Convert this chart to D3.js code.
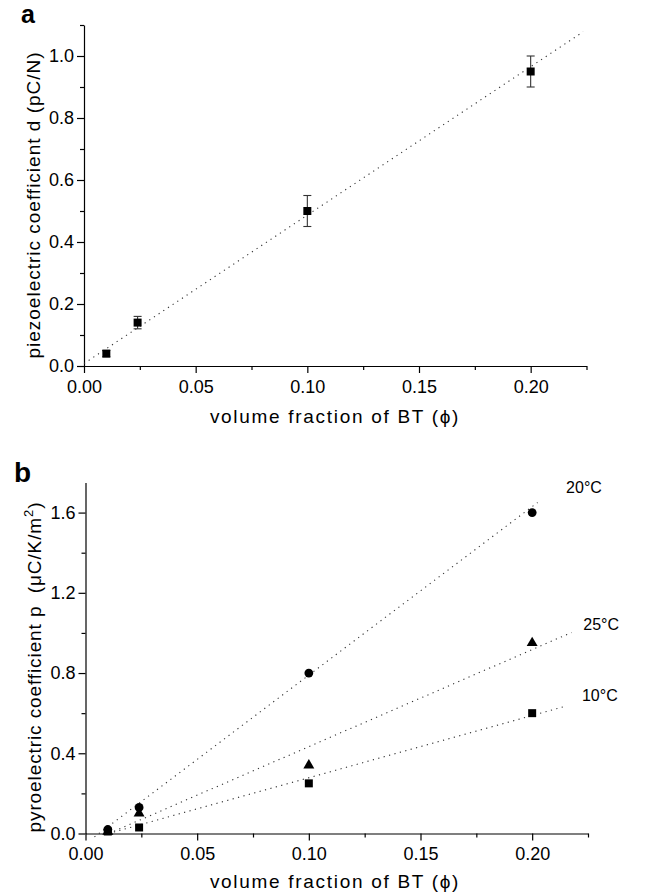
<!DOCTYPE html>
<html>
<head>
<meta charset="utf-8">
<script src="https://cdn.jsdelivr.net/npm/d3@7"></script>
<style>
  html, body { margin: 0; padding: 0; background: #fff; }
  svg { display: block; }
  text { font-family: "Liberation Sans", Arial, Helvetica, sans-serif; fill: #000; }
</style>
</head>
<body>
<svg id="chart" width="646" height="893"></svg>
<script>
// ---------- data ----------
const xTicksMajor = [0, 0.05, 0.10, 0.15, 0.20];
const xTicksMinor = [0.025, 0.075, 0.125, 0.175, 0.225];
const yTicksMajorA = [0, 0.2, 0.4, 0.6, 0.8, 1.0];
const yTicksMinorA = [0.1, 0.3, 0.5, 0.7, 0.9, 1.1];
const yTicksMajorB = [0, 0.4, 0.8, 1.2, 1.6];
const yTicksMinorB = [0.2, 0.6, 1.0, 1.4];

// panel a : piezoelectric coefficient
const phiA = [0.01, 0.024, 0.10, 0.20];
const dA = [0.04, 0.14, 0.50, 0.95];
const dErrA = [0.01, 0.02, 0.05, 0.05];
const fitAx = [0, 0.2235];
const fitAy = [0.008, 1.078];

// panel b : pyroelectric coefficient
const phiB = [0.01, 0.024, 0.10, 0.20];
const p20 = [0.02, 0.13, 0.80, 1.60];
const p25 = [0.01, 0.10, 0.34, 0.95];
const p10 = [0.01, 0.03, 0.25, 0.60];
const fit20x = [0.004, 0.2024];
const fit20y = [-0.017, 1.65];
const fit25x = [0.0105, 0.2176];
const fit25y = [0.0, 1.002];
const fit10x = [0.0103, 0.215];
const fit10y = [0.0, 0.6346];
const seriesLabels = ["20°C", "25°C", "10°C"];

// ---------- drawing ----------
const svg = d3.select("#chart");
const tickFont = 18;

function drawAxes(g, x, y, yMajor, yMinor, yFmt) {
  const xa = g.append("g").attr("transform", `translate(0,${y.range()[0]})`)
    .call(d3.axisBottom(x).tickValues(xTicksMajor).tickFormat(d3.format(".2f"))
      .tickSize(7).tickSizeOuter(0).tickPadding(7));
  g.append("g").attr("transform", `translate(0,${y.range()[0]})`)
    .call(d3.axisBottom(x).tickValues(xTicksMinor).tickFormat("")
      .tickSize(4).tickSizeOuter(0))
    .select(".domain").remove();
  const ya = g.append("g").attr("transform", `translate(${x.range()[0]},0)`)
    .call(d3.axisLeft(y).tickValues(yMajor).tickFormat(d3.format(yFmt))
      .tickSize(7).tickSizeOuter(0).tickPadding(3));
  g.append("g").attr("transform", `translate(${x.range()[0]},0)`)
    .call(d3.axisLeft(y).tickValues(yMinor).tickFormat("")
      .tickSize(4).tickSizeOuter(0))
    .select(".domain").remove();
  g.selectAll(".domain").attr("stroke", "#000").attr("stroke-width", 1.2);
  g.selectAll(".tick line").attr("stroke", "#000").attr("stroke-width", 1.2);
  g.selectAll(".tick text").attr("font-size", tickFont)
    .attr("font-family", "'Liberation Sans', Arial, sans-serif").attr("fill", "#000");
  xa.selectAll(".tick text").attr("dy", "0.71em");
}

function dotted(g, x, y, xs, ys) {
  const pts = xs.map((v, i) => [x(v), y(ys[i])]);
  g.append("path").attr("d", d3.line()(pts))
    .attr("fill", "none").attr("stroke", "#333").attr("stroke-width", 1.1)
    .attr("stroke-dasharray", "1.2,4.4");
}

// ----- panel a -----
const xA = d3.scaleLinear().domain([0, 0.225]).range([84, 586.5]);
const yA = d3.scaleLinear().domain([0, 1.1]).range([366, 25]);
const gA = svg.append("g");
drawAxes(gA, xA, yA, yTicksMajorA, yTicksMinorA, ".1f");
dotted(gA, xA, yA, fitAx, fitAy);

// error bars
const errG = gA.append("g").attr("stroke", "#333").attr("stroke-width", 1.1);
phiA.forEach((v, i) => {
  const cx = xA(v), y1 = yA(dA[i] - dErrA[i]), y2 = yA(dA[i] + dErrA[i]);
  errG.append("line").attr("x1", cx).attr("x2", cx).attr("y1", y1).attr("y2", y2);
  errG.append("line").attr("x1", cx - 4).attr("x2", cx + 4).attr("y1", y1).attr("y2", y1);
  errG.append("line").attr("x1", cx - 4).attr("x2", cx + 4).attr("y1", y2).attr("y2", y2);
});
gA.append("g").selectAll("path").data(phiA).join("path")
  .attr("d", d3.symbol(d3.symbolSquare, 64))
  .attr("transform", (d, i) => `translate(${xA(d)},${yA(dA[i])})`)
  .attr("fill", "#000");

gA.append("text").attr("x", 21).attr("y", 23).attr("font-size", 25)
  .attr("font-weight", "bold").text("a");
gA.append("text").attr("transform", "translate(40,205) rotate(-90)")
  .attr("text-anchor", "middle").attr("font-size", 19).attr("letter-spacing", 1.0)
  .text("piezoelectric coefficient d (pC/N)");
gA.append("text").attr("x", 335).attr("y", 423)
  .attr("text-anchor", "middle").attr("font-size", 19).attr("letter-spacing", 1.7)
  .text("volume fraction of BT (ϕ)");

// ----- panel b -----
const xB = d3.scaleLinear().domain([0, 0.225]).range([85.5, 588]);
const yB = d3.scaleLinear().domain([0, 1.75]).range([833.5, 482.5]);
const gB = svg.append("g");
drawAxes(gB, xB, yB, yTicksMajorB, yTicksMinorB, ".1f");
dotted(gB, xB, yB, fit20x, fit20y);
dotted(gB, xB, yB, fit25x, fit25y);
dotted(gB, xB, yB, fit10x, fit10y);

const markG = gB.append("g").attr("fill", "#000");
markG.selectAll(".sq").data(phiB).join("path").attr("class", "sq")
  .attr("d", d3.symbol(d3.symbolSquare, 64))
  .attr("transform", (d, i) => `translate(${xB(d)},${yB(p10[i])})`);
markG.selectAll(".tri").data(phiB).join("path").attr("class", "tri")
  .attr("d", d3.symbol(d3.symbolTriangle, 52))
  .attr("transform", (d, i) => `translate(${xB(d)},${yB(p25[i])})`);
markG.selectAll(".ci").data(phiB).join("circle").attr("class", "ci")
  .attr("cx", d => xB(d)).attr("cy", (d, i) => yB(p20[i])).attr("r", 4.4);

const labelPos = [[0.2152, 1.697], [0.2229, 1.017], [0.2223, 0.660]];
gB.selectAll(".slab").data(seriesLabels).join("text").attr("class", "slab")
  .attr("x", (d, i) => xB(labelPos[i][0])).attr("y", (d, i) => yB(labelPos[i][1]))
  .attr("font-size", 16).text(d => d);

gB.append("text").attr("x", 14).attr("y", 482).attr("font-size", 28)
  .attr("font-weight", "bold").text("b");
const yl = gB.append("text").attr("transform", "translate(41,667) rotate(-90)")
  .attr("text-anchor", "middle").attr("font-size", 19).attr("letter-spacing", 0.9)
  .style("white-space", "pre");
yl.append("tspan").text("pyroelectric coefficient p  (μC/K/m");
yl.append("tspan").attr("font-size", 13).attr("dy", -8).text("2");
yl.append("tspan").attr("dy", 8).text(")");
gB.append("text").attr("x", 335).attr("y", 888)
  .attr("text-anchor", "middle").attr("font-size", 19).attr("letter-spacing", 1.7)
  .text("volume fraction of BT (ϕ)");
</script>
</body>
</html>
